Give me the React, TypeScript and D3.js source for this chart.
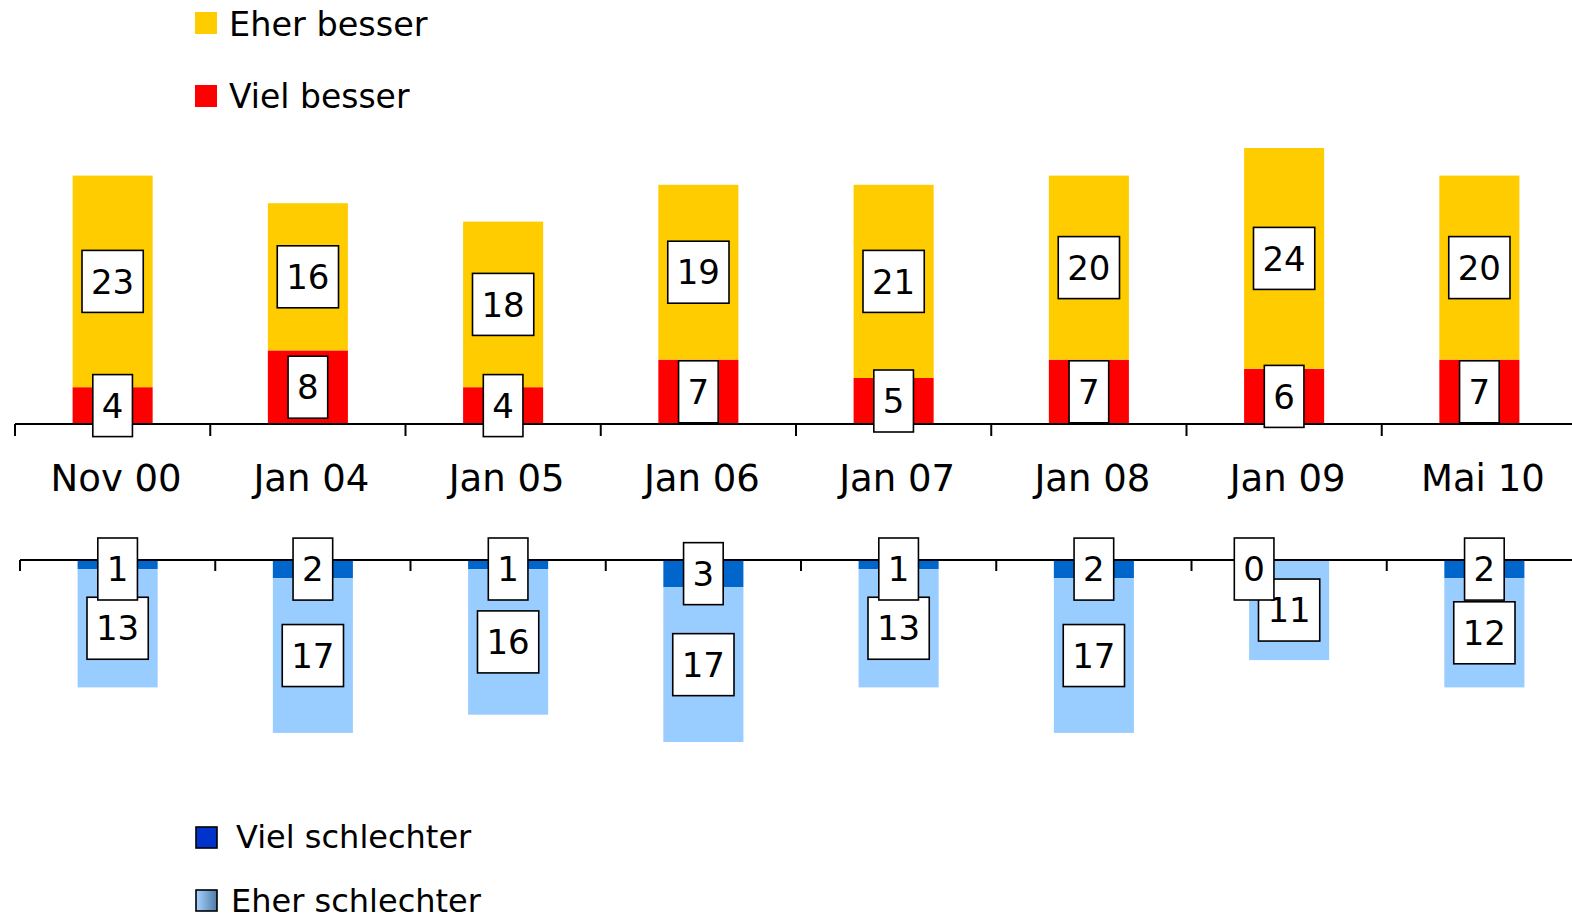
import React from 'react';
import * as d3 from 'd3';

const categories = ["Nov 00", "Jan 04", "Jan 05", "Jan 06", "Jan 07", "Jan 08", "Jan 09", "Mai 10"];
const vielBesser = [4, 8, 4, 7, 5, 7, 6, 7];
const eherBesser = [23, 16, 18, 19, 21, 20, 24, 20];
const vielSchlechter = [1, 2, 1, 3, 1, 2, 0, 2];
const eherSchlechter = [13, 17, 16, 17, 13, 17, 11, 12];

const W = 1572;
const H = 919;
const FONT = "'DejaVu Sans', Verdana, sans-serif";

const YELLOW = "#FFCC00";
const RED = "#FF0000";
const DARK_BLUE = "#0066CC";
const LIGHT_BLUE = "#99CCFF";

const LBL_SIZE = 34;
const BOX_H = 62;

function ValueBox({ cx, cy, value }: { cx: number; cy: number; value: number }) {
  const txt = String(value);
  const w = txt.length * 0.636 * LBL_SIZE + 18;
  return (
    <g>
      <rect x={cx - w / 2} y={cy - BOX_H / 2} width={w} height={BOX_H}
        fill="#fff" stroke="#000" strokeWidth={1.6} />
      <text x={cx} y={cy} dy="0.36em" textAnchor="middle" fontSize={LBL_SIZE}
        fontFamily={FONT} fill="#000">{txt}</text>
    </g>
  );
}

export default function App() {
  const xTop = d3.scaleBand<string>().domain(categories).range([15, 1577])
    .paddingInner(0.59).paddingOuter(0.295);
  const xBot = d3.scaleBand<string>().domain(categories).range([20, 1582])
    .paddingInner(0.59).paddingOuter(0.295);
  const yTop = d3.scaleLinear().domain([0, 30]).range([424, 424 - 276]);
  const yBot = d3.scaleLinear().domain([0, 20]).range([560, 560 + 182]);

  const stepTop = xTop.step();
  const stepBot = xBot.step();
  const bwTop = xTop.bandwidth();
  const bwBot = xBot.bandwidth();

  return (
    <div style={{ position: 'fixed', left: 0, top: 0 }}>
      <svg width={W} height={H} style={{ display: 'block', background: '#fff' }}>
        <defs>
          <linearGradient id="eherGrad" x1="0" x2="1" y1="0" y2="0">
            <stop offset="0" stopColor="#A8D4FF" />
            <stop offset="1" stopColor="#4F7BA8" />
          </linearGradient>
        </defs>

        {/* legend top */}
        <rect x={195} y={12} width={22} height={22} fill={YELLOW} />
        <text x={229} y={36} fontSize={33.5} fontFamily={FONT}>Eher besser</text>
        <rect x={195} y={85} width={22} height={22} fill={RED} />
        <text x={229} y={108} fontSize={33} fontFamily={FONT}>Viel besser</text>

        {/* top bars */}
        {categories.map((c, i) => {
          const x = xTop(c)!;
          return (
            <g key={"t" + c}>
              <rect x={x} y={yTop(vielBesser[i])} width={bwTop}
                height={yTop(0) - yTop(vielBesser[i])} fill={RED} />
              <rect x={x} y={yTop(vielBesser[i] + eherBesser[i])} width={bwTop}
                height={yTop(vielBesser[i]) - yTop(vielBesser[i] + eherBesser[i])} fill={YELLOW} />
            </g>
          );
        })}
        <line x1={15} x2={W} y1={424} y2={424} stroke="#000" strokeWidth={2} />
        {categories.map((c, i) => (
          <line key={"tt" + c} x1={15 + i * stepTop} x2={15 + i * stepTop} y1={424} y2={436}
            stroke="#000" strokeWidth={2} />
        ))}
        {categories.map((c, i) => {
          const cx = xTop(c)! + bwTop / 2;
          const yb = (yTop(0) + yTop(vielBesser[i])) / 2;
          const ye = (yTop(vielBesser[i]) + yTop(vielBesser[i] + eherBesser[i])) / 2;
          return (
            <g key={"tl" + c}>
              <ValueBox cx={cx} cy={ye} value={eherBesser[i]} />
              <ValueBox cx={cx} cy={yb} value={vielBesser[i]} />
            </g>
          );
        })}

        {/* category labels */}
        {categories.map((c) => (
          <text key={"c" + c} x={(xTop(c)! + xBot(c)!) / 2 + bwTop / 2 + 1} y={491}
            textAnchor="middle" fontSize={37} fontFamily={FONT}>{c}</text>
        ))}

        {/* bottom bars */}
        {categories.map((c, i) => {
          const x = xBot(c)!;
          return (
            <g key={"b" + c}>
              <rect x={x} y={yBot(0)} width={bwBot}
                height={yBot(vielSchlechter[i]) - yBot(0)} fill={DARK_BLUE} />
              <rect x={x} y={yBot(vielSchlechter[i])} width={bwBot}
                height={yBot(vielSchlechter[i] + eherSchlechter[i]) - yBot(vielSchlechter[i])} fill={LIGHT_BLUE} />
            </g>
          );
        })}
        <line x1={20} x2={W} y1={560} y2={560} stroke="#000" strokeWidth={2} />
        {categories.map((c, i) => (
          <line key={"bt" + c} x1={20 + i * stepBot} x2={20 + i * stepBot} y1={560} y2={571}
            stroke="#000" strokeWidth={2} />
        ))}
        {categories.map((c, i) => {
          const cx = xBot(c)! + bwBot / 2;
          const ye = (yBot(vielSchlechter[i]) + yBot(vielSchlechter[i] + eherSchlechter[i])) / 2;
          // keep the small labels inside the plot area
          const yv = Math.max((yBot(0) + yBot(vielSchlechter[i])) / 2, 538 + BOX_H / 2);
          const dx = vielSchlechter[i] === 0 ? -35 : 0;
          return (
            <g key={"bl" + c}>
              <ValueBox cx={cx} cy={ye} value={eherSchlechter[i]} />
              <ValueBox cx={cx + dx} cy={yv} value={vielSchlechter[i]} />
            </g>
          );
        })}

        {/* legend bottom */}
        <rect x={196} y={827} width={21} height={21} fill="#0033CC" stroke="#000" strokeWidth={1.6} />
        <text x={236} y={848} fontSize={32} fontFamily={FONT}>Viel schlechter</text>
        <rect x={196} y={890} width={21} height={21} fill="url(#eherGrad)" stroke="#000" strokeWidth={1.6} />
        <text x={231} y={912} fontSize={32} fontFamily={FONT}>Eher schlechter</text>
      </svg>
    </div>
  );
}
